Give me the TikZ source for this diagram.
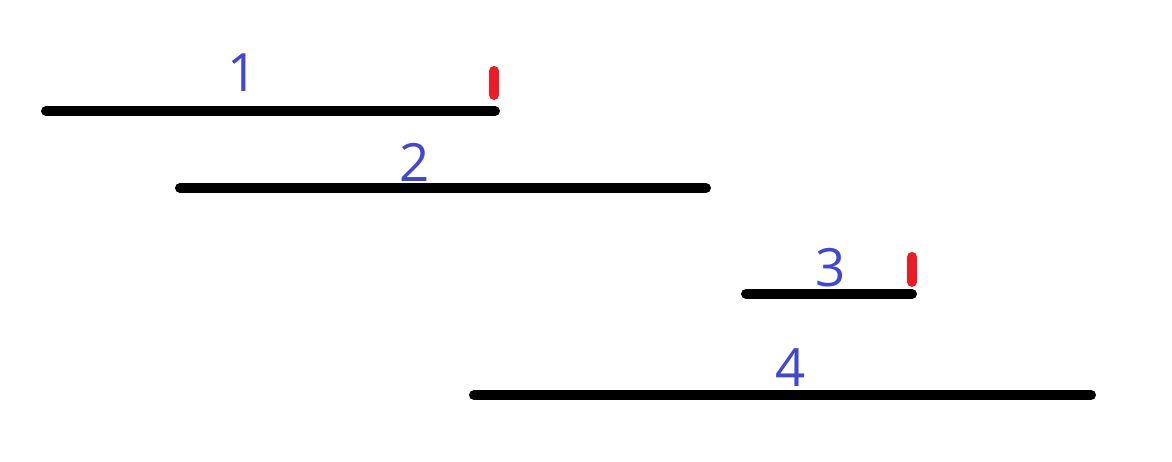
\documentclass[tikz,border=0pt]{standalone}
\usepackage{fontspec}
\setmainfont{Open Sans}
\definecolor{labelblue}{RGB}{64,72,208}
\definecolor{markred}{RGB}{237,28,36}

\begin{document}
\begin{tikzpicture}[x=0.01cm,y=0.01cm,
    seg/.style={line width=2.85pt,line cap=round,black},
    tick/.style={line width=2.85pt,line cap=round,markred},
    lab/.style={inner sep=0pt,text=labelblue,font=\fontsize{15pt}{18pt}\selectfont}]
    \useasboundingbox (0,0) rectangle (1172,462);

    \coordinate (A1) at (46,351);
    \coordinate (A2) at (495,351);
    \coordinate (B1) at (180,274);
    \coordinate (B2) at (706,274);
    \coordinate (C1) at (746,168);
    \coordinate (C2) at (912,168);
    \coordinate (D1) at (474,67);
    \coordinate (D2) at (1091,67);
    \coordinate (T1) at (494,391);
    \coordinate (T2) at (494,367);
    \coordinate (U1) at (912,205);
    \coordinate (U2) at (912,180);

    \node[lab] (L1) at (243,389) {1};
    \node[lab] (L2) at (415,300) {2};
    \node[lab] (L3) at (831,194) {3};
    \node[lab] (L4) at (791,94) {4};

    \draw[seg]
        (A1) -- (A2)
        (B1) -- (B2)
        (C1) -- (C2)
        (D1) -- (D2);
    \draw[tick]
        (T1) -- (T2)
        (U1) -- (U2);
\end{tikzpicture}
\end{document}
